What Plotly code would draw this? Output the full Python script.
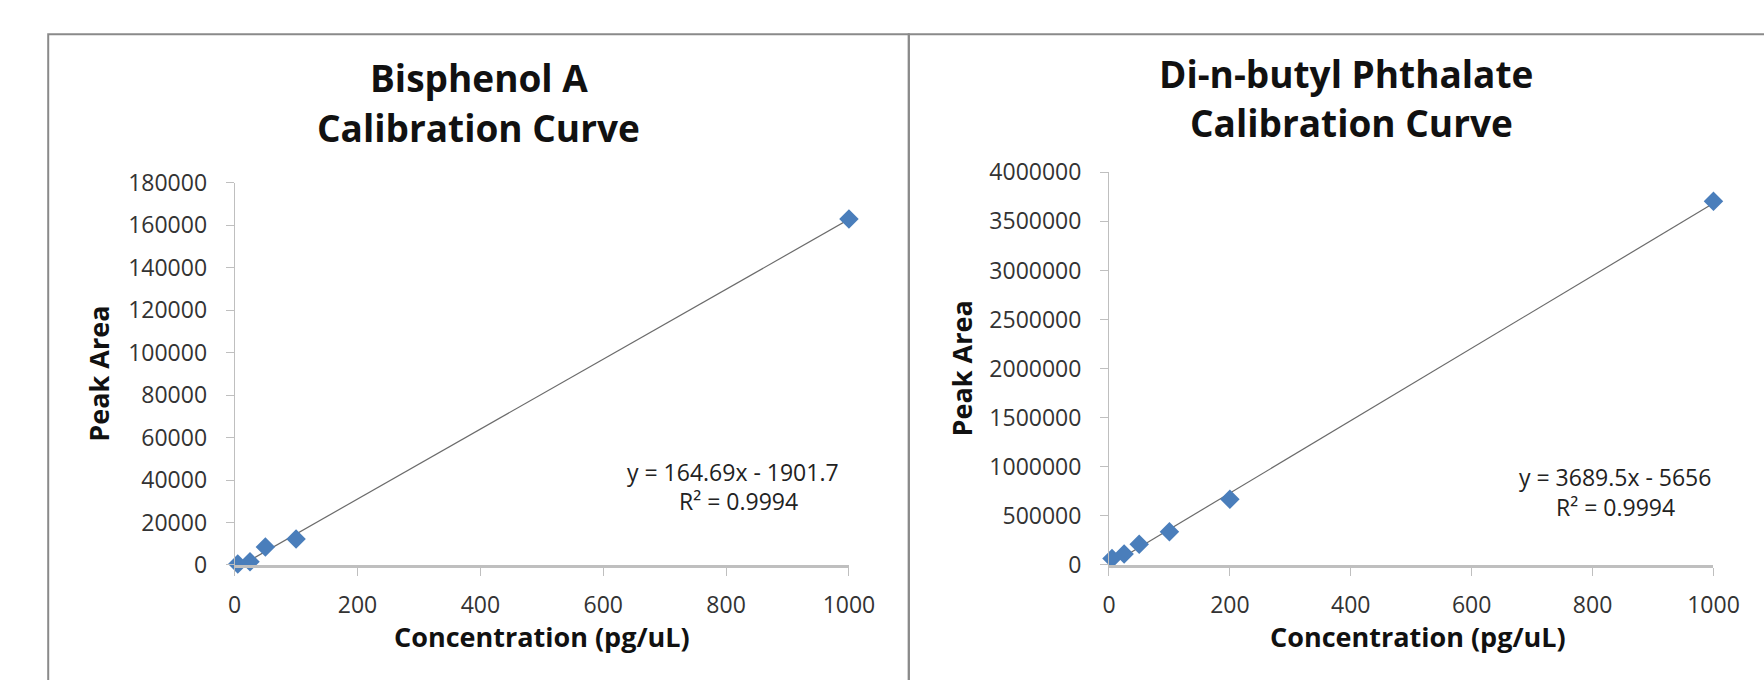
import plotly.graph_objects as go

W, H = 1764, 680

# ---- data ----
bpa_conc = [5, 25, 50, 100, 1000]
bpa_area = [500, 1500, 8500, 12200, 163000]
bpa_slope, bpa_intercept = 164.69, -1901.7
bpa_eq = ["y = 164.69x - 1901.7", "R² = 0.9994"]

dbp_conc = [5, 25, 50, 100, 200, 1000]
dbp_area = [65000, 112000, 210000, 338000, 670000, 3705000]
dbp_slope, dbp_intercept = 3689.5, -5656
dbp_eq = ["y = 3689.5x - 5656", "R² = 0.9994"]

titles = [["Bisphenol A", "Calibration Curve"], ["Di-n-butyl Phthalate", "Calibration Curve"]]
x_title = "Concentration (pg/uL)"
y_title = "Peak Area"

FONT = "Open Sans"
BLUE = "#4A7EBB"


def px(x):
    return x / W


def py(y):
    return 1 - y / H


fig = go.Figure()


def add_series(conc, area, slope, intercept, xa, ya):
    xs = [min(conc), max(conc)]
    ys = [slope * v + intercept for v in xs]
    fig.add_trace(go.Scatter(x=xs, y=ys, mode="lines", xaxis=xa, yaxis=ya,
                             line=dict(color="#6b6b6b", width=1.2), hoverinfo="skip",
                             showlegend=False))
    fig.add_trace(go.Scatter(x=conc, y=area, mode="markers", xaxis=xa, yaxis=ya,
                             marker=dict(symbol="diamond", size=15, color=BLUE,
                                         line=dict(width=0)),
                             cliponaxis=False, showlegend=False))


add_series(bpa_conc, bpa_area, bpa_slope, bpa_intercept, "x", "y")
add_series(dbp_conc, dbp_area, dbp_slope, dbp_intercept, "x2", "y2")

tickfont = dict(family=FONT, size=23, color="#333333")
axis_common = dict(showgrid=False, zeroline=False, showline=True, linecolor="#BFBFBF",
                   ticks="outside", ticklen=8, tickcolor="#BFBFBF", tickfont=tickfont,
                   tickformat="d")

fig.update_layout(
    width=W, height=H, margin=dict(l=0, r=0, t=0, b=0),
    paper_bgcolor="white", plot_bgcolor="white", showlegend=False,
    xaxis=dict(domain=[px(232), px(858)], range=[0, 1000], dtick=200, anchor="y",
               linewidth=2.5, ticklabelstandoff=10, **axis_common),
    yaxis=dict(domain=[py(575), py(174)], range=[0, 180000], dtick=20000, anchor="x",
               linewidth=1, ticklabelstandoff=14, **axis_common),
    xaxis2=dict(domain=[px(1123), px(1739)], range=[0, 1000], dtick=200, anchor="y2",
                linewidth=2.5, ticklabelstandoff=10, **axis_common),
    yaxis2=dict(domain=[py(575), py(163)], range=[0, 4000000], dtick=500000, anchor="x2",
                linewidth=1, ticklabelstandoff=14, **axis_common),
)

ann = []


def text(x, y, s, size, bold=False, angle=0, color="#111111"):
    ann.append(dict(x=px(x), y=py(y), xref="paper", yref="paper", text=f"<b>{s}</b>" if bold else s,
                    showarrow=False, xanchor="center", yanchor="middle", textangle=angle,
                    font=dict(family=FONT, size=size, color=color)))


# titles
text(481, 63, titles[0][0], 37, bold=True)
text(480, 116, titles[0][1], 37, bold=True)
text(1365, 59, titles[1][0], 37, bold=True)
text(1370, 111, titles[1][1], 37, bold=True)
# axis titles
text(545, 650, x_title, 27, bold=True)
text(1438, 650, x_title, 27, bold=True)
text(93, 374, y_title, 27, bold=True, angle=-90)
text(973, 369, y_title, 27, bold=True, angle=-90)
# equations
text(740, 477, bpa_eq[0], 23, color="#222222")
text(745, 508, bpa_eq[1], 23, color="#222222")
text(1639, 483, dbp_eq[0], 23, color="#222222")
text(1639, 514, dbp_eq[1], 23, color="#222222")

fig.update_layout(annotations=ann)

# chart-area frames
frame = dict(type="rect", xref="paper", yref="paper", line=dict(color="#8a8a8a", width=2),
             fillcolor="rgba(0,0,0,0)", layer="below")
fig.add_shape(x0=px(42), x1=px(919), y0=py(720), y1=py(18), **frame)
fig.add_shape(x0=px(919), x1=px(1800), y0=py(720), y1=py(18), **frame)

fig.write_html("out.html")
